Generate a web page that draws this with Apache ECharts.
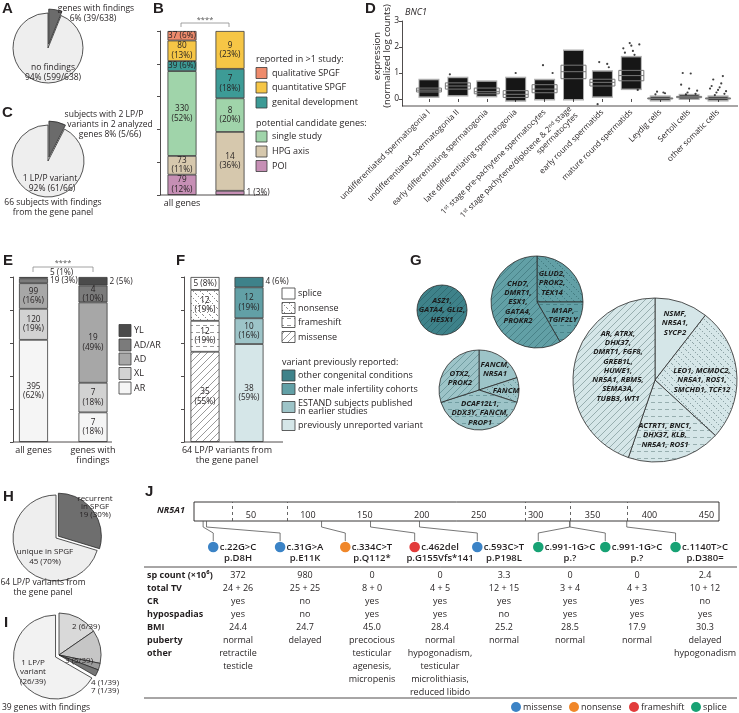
<!DOCTYPE html>
<html>
<head>
<meta charset="utf-8">
<title>Gene panel findings</title>
<script src="https://cdn.jsdelivr.net/npm/echarts@6/dist/echarts.min.js"></script>
<style>
html,body{margin:0;padding:0;background:#fff;}
#chart{width:739px;height:713px;}
</style>
</head>
<body>
<div id="chart"></div>
<script>
// ================= DATA =================
// Panel A
const aNames = ['genes with findings', 'no findings'];
const aValues = [39, 599];
// Panel C
const cNames = ['subjects with 2 LP/P variants in 2 analyzed genes', '1 LP/P variant'];
const cValues = [5, 61];
// Panel B
const bCategories = ['all genes', 'genes with\nfindings'];
const bTotals = [638, 39];
const bPOI = [79, 1];       const bPOIPct = [12, 3];
const bHPG = [73, 14];      const bHPGPct = [11, 36];
const bSingle = [330, 8];   const bSinglePct = [52, 20];
const bGenital = [39, 7];   const bGenitalPct = [6, 18];
const bQuant = [80, 9];     const bQuantPct = [13, 23];
const bQual = [37, 0];      const bQualPct = [6, 0];
// Panel D
const dGene = 'BNC1';
const dCategories = [
  'undifferentiated spermatogonia I',
  'undifferentiated spermatogonia II',
  'early differentiating spermatogonia',
  'late differentiating spermatogonia',
  '1st stage pre-pachytene spermatocytes',
  '1st stage pachytene/diplotene & 2nd stage\nspermatocytes',
  'early round spermatids',
  'mature round spermatids',
  'Leydig cells',
  'Sertoli cells',
  'other somatic cells'
];
const dYTicks = [0, 1, 2, 3];
const dQ1 =        [0.27, 0.38, 0.20, 0.06, 0.24, 0.78, 0.50, 0.70, 0.00, 0.05, 0.00];
const dMedian =    [0.34, 0.50, 0.28, 0.18, 0.38, 1.05, 0.64, 0.90, 0.02, 0.08, 0.02];
const dQ3 =        [0.42, 0.62, 0.42, 0.32, 0.55, 1.30, 0.76, 1.10, 0.04, 0.10, 0.04];
const dCloudLow =  [0.10, 0.15, 0.12, -0.05, 0.00, 0.00, 0.10, 0.40, -0.04, 0.02, -0.04];
const dCloudHigh = [0.72, 0.80, 0.66, 0.80, 0.72, 1.85, 1.05, 1.60, 0.08, 0.14, 0.08];
const dOutliers = [
  [1, 0.95], [3, 1.0], [4, 1.0], [4, 1.3], [6, 1.22], [6, 1.42], [6, 1.35], [6, -0.2],
  [7, 1.70], [7, 1.78], [7, 1.85], [7, 1.95], [7, 2.05], [7, 2.1], [7, 2.15], [7, 0.35],
  [8, 0.28], [8, 0.22], [8, 0.18], [8, 0.25],
  [9, 1.0], [9, 0.98], [9, 0.55], [9, 0.4], [9, 0.32], [9, 0.25], [9, 0.2], [9, 0.18],
  [10, 0.88], [10, 0.75], [10, 0.6], [10, 0.5], [10, 0.45], [10, 0.4], [10, 0.35], [10, 0.3], [10, 0.25], [10, 0.2], [10, 0.15]
];
// Panel E
const eCategories = ['all genes', 'genes with\nfindings'];
const eTotals = [638, 39];
const eAR = [395, 7];   const eARPct = [62, 18];
const eXL = [120, 7];   const eXLPct = [19, 18];
const eAD = [99, 19];   const eADPct = [16, 49];
const eADAR = [19, 4];  const eADARPct = [3, 10];
const eYL = [5, 2];     const eYLPct = [1, 5];
// Panel F
const fCategories = ['variant type', 'previously reported'];
const fTotals = [64, 64];
const fMissense = [35, 0];     const fMissensePct = [55, 0];
const fFrameshift = [12, 0];   const fFrameshiftPct = [19, 0];
const fNonsense = [12, 0];     const fNonsensePct = [19, 0];
const fSplice = [5, 0];        const fSplicePct = [8, 0];
const fUnreported = [0, 38];   const fUnreportedPct = [0, 59];
const fEstand = [0, 10];       const fEstandPct = [0, 16];
const fMaleInf = [0, 12];      const fMaleInfPct = [0, 19];
const fCongenital = [0, 4];    const fCongenitalPct = [0, 6];
// Panel G  (order of slices: splice, nonsense, frameshift, missense)
const gTypes = ['splice', 'nonsense', 'frameshift', 'missense'];
const gCongenital = [0, 0, 0, 4];
const gMaleInf = [0, 3, 2, 7];
const gEstand = [2, 1, 4, 3];
const gUnreported = [4, 10, 7, 17];
const gCongenitalGenes = ['', '', '', 'ASZ1,\nGATA4, GLI2,\nHESX1'];
const gMaleInfGenes = ['', 'GLUD2,\nPROK2,\nTEX14', 'M1AP,\nTGIF2LY', 'CHD7,\nDMRT1,\nESX1,\nGATA4,\nPROKR2'];
const gEstandGenes = ['FANCM,\nNR5A1', 'FANCM', 'DCAF12L1,\nDDX3Y, FANCM,\nPROP1', 'OTX2,\nPROK2'];
const gUnreportedGenes = ['NSMF,\nNR5A1,\nSYCP2', 'LEO1, MCMDC2,\nNR5A1, ROS1,\nSMCHD1, TCF12', 'ACTRT1, BNC1,\nDHX37, KLB,\nNR5A1, ROS1', 'AR, ATRX,\nDHX37,\nDMRT1, FGF8,\nGREB1L,\nHUWE1,\nNR5A1, RBM5,\nSEMA3A,\nTUBB3, WT1'];
// Panel H
const hNames = ['recurrent in SPGF', 'unique in SPGF'];
const hValues = [19, 45];
const hPct = [30, 70];
// Panel I
const iNames = ['2', '3', '4', '7', '1 LP/P variant'];
const iValues = [6, 5, 1, 1, 26];
// Panel J
const jGene = 'NR5A1';
const jLength = 461;
const jTicks = [50, 100, 150, 200, 250, 300, 350, 400, 450];
const jBoundaries = [34, 82, 291, 330, 380];
const jPos = [8, 11, 112, 155, 198, 330, 330, 380];
const jCdna = ['c.22G>C', 'c.31G>A', 'c.334C>T', 'c.462del', 'c.593C>T', 'c.991-1G>C', 'c.991-1G>C', 'c.1140T>C'];
const jProtein = ['p.D8H', 'p.E11K', 'p.Q112*', 'p.G155Vfs*141', 'p.P198L', 'p.?', 'p.?', 'p.D380='];
const jType = ['missense', 'missense', 'nonsense', 'frameshift', 'missense', 'splice', 'splice', 'splice'];
const jRowNames = ['sp count (×10⁶)', 'total TV', 'CR', 'hypospadias', 'BMI', 'puberty', 'other'];
const jSpCount = ['372', '980', '0', '0', '3.3', '0', '0', '2.4'];
const jTotalTV = ['24 + 26', '25 + 25', '8 + 0', '4 + 5', '12 + 15', '3 + 4', '4 + 3', '10 + 12'];
const jCR = ['yes', 'no', 'yes', 'yes', 'yes', 'yes', 'yes', 'no'];
const jHypospadias = ['yes', 'no', 'yes', 'yes', 'no', 'yes', 'yes', 'yes'];
const jBMI = ['24.4', '24.7', '45.0', '28.4', '25.2', '28.5', '17.9', '30.3'];
const jPuberty = ['normal', 'delayed', 'precocious', 'normal', 'normal', 'normal', 'normal', 'delayed'];
const jOther = [
  ['retractile', 'testicle'], [], ['testicular', 'agenesis,', 'micropenis'],
  ['hypogonadism,', 'testicular', 'microlithiasis,', 'reduced libido'], [], [], [], ['hypogonadism']
];
const jLegend = ['missense', 'nonsense', 'frameshift', 'splice'];

// ================= STYLE / LAYOUT =================
const INK = '#231f20';
const FONT = '"Open Sans", "DejaVu Sans", sans-serif';
const colQual = '#ee8b6c', colQuant = '#f6c646', colGenital = '#3d9b96',
      colSingle = '#a0d4aa', colHPG = '#d6c8ad', colPOI = '#c68fb5';
const colYL = '#4b4b4b', colADAR = '#7b7b7b', colAD = '#a7a7a7', colXL = '#d2d2d2', colAR = '#f5f5f5';
const colCong = '#3e828a', colMale = '#62a0a6', colEstand = '#9dc4c8', colUnrep = '#d5e6e8';
const typeColor = { missense: '#3b83c6', nonsense: '#f0872a', frameshift: '#e23b3b', splice: '#17a274' };

function makePattern(bg, kind, fg) {
  const w = 7, h = 7;
  const cv = document.createElement('canvas');
  cv.width = w; cv.height = h;
  const g = cv.getContext('2d');
  g.fillStyle = bg; g.fillRect(0, 0, w, h);
  g.strokeStyle = fg; g.fillStyle = fg; g.lineWidth = 0.7;
  if (kind === 'missense') {
    g.beginPath();
    g.moveTo(-1, h + 1); g.lineTo(w + 1, -1);
    g.moveTo(-1, 1); g.lineTo(1, -1);
    g.moveTo(w - 1, h + 1); g.lineTo(w + 1, h - 1);
    g.stroke();
  } else if (kind === 'nonsense') {
    for (let i = 0; i < w; i += 2) g.fillRect(i, i, 0.9, 0.9);
  } else if (kind === 'frameshift') {
    g.beginPath(); g.moveTo(0, 3.5); g.lineTo(4, 3.5); g.stroke();
  }
  return { image: cv, repeat: 'repeat' };
}
function typeFill(bg, type, fg) { return type === 'splice' ? bg : makePattern(bg, type, fg); }

const mctx = document.createElement('canvas').getContext('2d');
function textW(t, font) { mctx.font = font; return mctx.measureText(t).width; }

// ---------- graphic helpers ----------
const G = [];
function txt(x, y, text, o) {
  o = o || {};
  const size = o.size || 9;
  const font = (o.style || 'normal') + ' ' + (o.weight || 'normal') + ' ' + size + 'px ' + (o.family || FONT);
  const el = { type: 'text', x: x, y: y, silent: true, z: 100,
    style: { text: text, fill: o.color || INK, font: font,
      textAlign: o.align || 'center', align: o.align || 'center',
      textVerticalAlign: 'middle', verticalAlign: 'middle',
      lineHeight: o.lh || Math.round(size * 1.15) } };
  if (o.rotation) el.rotation = o.rotation;
  G.push(el);
}
function box(x, y, w, h, fill) {
  G.push({ type: 'rect', silent: true, z: 100, shape: { x: x, y: y, width: w, height: h },
    style: { fill: fill, stroke: '#3a3a3a', lineWidth: 0.8 } });
}
function pline(pts, o) {
  o = o || {};
  G.push({ type: 'polyline', silent: true, z: o.z || 100, shape: { points: pts },
    style: { fill: null, stroke: o.color || INK, lineWidth: o.w || 0.8 } });
}
function dot(cx, cy, r, fill) {
  G.push({ type: 'circle', silent: true, z: 100, shape: { cx: cx, cy: cy, r: r }, style: { fill: fill } });
}

// ---------- panel letters ----------
[['A', 2, 9], ['B', 153, 9], ['C', 2, 113], ['D', 365, 9], ['E', 3, 261], ['F', 176, 261],
 ['G', 410, 261], ['H', 3, 497], ['I', 4, 623], ['J', 145, 492]].forEach(function (l) {
  txt(l[1], l[2], l[0], { align: 'left', weight: 'bold', size: 15, family: '"Liberation Sans", Arial, sans-serif' });
});

// ---------- A & C texts ----------
txt(96, 9, aNames[0], { size: 8.5 });
txt(93, 19, Math.round(aValues[0] / (aValues[0] + aValues[1]) * 100) + '% (' + aValues[0] + '/' + (aValues[0] + aValues[1]) + ')', { size: 8.5 });
txt(53, 68, aNames[1], { size: 8.5 });
txt(53, 78, Math.round(aValues[1] / (aValues[0] + aValues[1]) * 100) + '% (' + aValues[1] + '/' + (aValues[0] + aValues[1]) + ')', { size: 8.5 });
txt(104, 115, 'subjects with 2 LP/P', { size: 8.5 });
txt(110, 125, 'variants in 2 analyzed', { size: 8.5 });
txt(110, 135, 'genes ' + Math.round(cValues[0] / (cValues[0] + cValues[1]) * 100) + '% (' + cValues[0] + '/' + (cValues[0] + cValues[1]) + ')', { size: 8.5 });
txt(50, 179, cNames[1], { size: 8.5 });
txt(52, 189, Math.round(cValues[1] / (cValues[0] + cValues[1]) * 100) + '% (' + cValues[1] + '/' + (cValues[0] + cValues[1]) + ')', { size: 8.5 });
txt(53, 203, (cValues[0] + cValues[1]) + ' subjects with findings', { size: 8.5 });
txt(53, 213, 'from the gene panel', { size: 8.5 });

// ---------- B decorations & legend ----------
pline([[160, 195], [267, 195]]);
pline([[181, 27], [181, 23], [229, 23], [229, 27]], { color: '#8a8a8a' });
txt(205, 20, '****', { size: 7.5, color: '#555' });
txt(256, 59, 'reported in >1 study:', { align: 'left' });
[['qualitative SPGF', colQual, 73], ['quantitative SPGF', colQuant, 87.5], ['genital development', colGenital, 102.5]].forEach(function (it) {
  box(256, it[2] - 5.5, 11, 11, it[1]); txt(272, it[2], it[0], { align: 'left' });
});
txt(256, 123, 'potential candidate genes:', { align: 'left' });
[['single study', colSingle, 136.5], ['HPG axis', colHPG, 151.5], ['POI', colPOI, 166]].forEach(function (it) {
  box(256, it[2] - 5.5, 11, 11, it[1]); txt(272, it[2], it[0], { align: 'left' });
});

// ---------- D decorations ----------
pline([[402, 106], [738, 106]]);
txt(405, 12, dGene, { align: 'left', style: 'italic', size: 9 });
txt(377, 56, 'expression', { size: 9.5, rotation: Math.PI / 2 });
txt(387, 56, '(normalized log counts)', { size: 9.5, rotation: Math.PI / 2 });

// ---------- E decorations & legend ----------
pline([[13, 442], [112, 442]]);
pline([[33, 272], [33, 267], [93, 267], [93, 272]], { color: '#8a8a8a' });
txt(63, 263, '****', { size: 7.5, color: '#555' });
[['YL', colYL, 330.5], ['AD/AR', colADAR, 345], ['AD', colAD, 359], ['XL', colXL, 373.5], ['AR', colAR, 388]].forEach(function (it) {
  box(119, it[2] - 6, 12, 12, it[1]); txt(134, it[2], it[0], { align: 'left' });
});

// ---------- F decorations & legend ----------
pline([[184, 442], [283, 442]]);
txt(227, 450, '64 LP/P variants from', { size: 9 });
txt(227, 460, 'the gene panel', { size: 9 });
const patFg = '#6f6f6f';
[['splice', 293.5], ['nonsense', 308], ['frameshift', 322], ['missense', 337]].forEach(function (it) {
  box(282, it[1] - 5.5, 13, 11, typeFill('#ffffff', it[0], patFg)); txt(298, it[1], it[0], { align: 'left' });
});
txt(282, 362, 'variant previously reported:', { align: 'left' });
box(282, 370, 13, 11, colCong); txt(298, 375.5, 'other congenital conditions', { align: 'left' });
box(282, 383.5, 13, 11, colMale); txt(298, 389, 'other male infertility cohorts', { align: 'left' });
box(282, 401.5, 13, 11, colEstand); txt(298, 403, 'ESTAND subjects published', { align: 'left' });
txt(298, 411, 'in earlier studies', { align: 'left' });
box(282, 419.5, 13, 11, colUnrep); txt(298, 425, 'previously unreported variant', { align: 'left' });

// ---------- G labels ----------
const gLabelPos = {
  cong: [null, null, null, [442, 310]],
  male: [null, [552, 283], [563, 315], [518, 302]],
  estand: [[495, 369.5], [506, 391], [480, 413], [460, 378]],
  unrep: [[675, 323], [702, 380], [665, 435], [618, 366]]
};
function gLabels(genes, pos) {
  genes.forEach(function (t, k) { if (t && pos[k]) txt(pos[k][0], pos[k][1], t, { size: 7.8, weight: 'bold', style: 'italic', lh: 9.3, color: '#1c1c1c' }); });
}
gLabels(gCongenitalGenes, gLabelPos.cong);
gLabels(gMaleInfGenes, gLabelPos.male);
gLabels(gEstandGenes, gLabelPos.estand);
gLabels(gUnreportedGenes, gLabelPos.unrep);

// ---------- H & I texts ----------
txt(95, 499, 'recurrent', { size: 8 });
txt(95, 507, 'in SPGF', { size: 8 });
txt(95, 515, hValues[0] + ' (' + hPct[0] + '%)', { size: 8 });
txt(45, 552, hNames[1], { size: 8 });
txt(45, 562, hValues[1] + ' (' + hPct[1] + '%)', { size: 8 });
txt(43, 583, (hValues[0] + hValues[1]) + ' LP/P variants from', { size: 8.5 });
txt(43, 593, 'the gene panel', { size: 8.5 });
const iTot = iValues.reduce(function (s, v) { return s + v; }, 0);
txt(86, 627, iNames[0] + ' (' + iValues[0] + '/' + iTot + ')', { size: 8 });
txt(79, 661, iNames[1] + ' (' + iValues[1] + '/' + iTot + ')', { size: 8 });
txt(91, 683, iNames[2] + ' (' + iValues[2] + '/' + iTot + ')', { size: 8, align: 'left' });
txt(91, 691, iNames[3] + ' (' + iValues[3] + '/' + iTot + ')', { size: 8, align: 'left' });
txt(33, 663, '1 LP/P', { size: 8 });
txt(33, 672, 'variant', { size: 8 });
txt(33, 682, '(' + iValues[4] + '/' + iTot + ')', { size: 8 });
txt(46, 708, iTot + ' genes with findings', { size: 8.5 });

// ---------- J texts ----------
txt(157, 510, jGene, { align: 'left', weight: 'bold', style: 'italic', size: 9 });
const jColX = [238, 305, 372, 440, 504, 570, 637, 705];
const cFont = 'normal 600 9.5px ' + FONT;
const jCircleX = jCdna.map(function (t, i) { return jColX[i] - textW(t, cFont) / 2 - 6.5; });
jCdna.forEach(function (t, i) {
  txt(jColX[i], 547, t, { size: 9.5, weight: 600 });
  txt(jColX[i], 558, jProtein[i], { size: 9.5, weight: 600 });
});
pline([[144, 567], [737, 567]]);
pline([[144, 698], [737, 698]]);
const jRows = [jSpCount, jTotalTV, jCR, jHypospadias, jBMI, jPuberty];
jRowNames.forEach(function (n, r) { txt(147, 575 + 13 * r, n, { align: 'left', weight: 'bold', size: 9 }); });
jRows.forEach(function (row, r) { row.forEach(function (v, i) { txt(jColX[i], 575 + 13 * r, v, { size: 9 }); }); });
jOther.forEach(function (lines, i) { lines.forEach(function (v, k) { txt(jColX[i], 653 + 13 * k, v, { size: 9 }); }); });
const jLegendX = [516, 574, 634, 696];
jLegend.forEach(function (t, k) { dot(jLegendX[k], 707, 5, typeColor[t]); txt(jLegendX[k] + 7, 707, t, { align: 'left', size: 9 }); });

// ================= SERIES BUILDERS =================
function stackBar(name, counts, pcts, totals, color, stack, axis, axisPx, overrides) {
  return {
    type: 'bar', name: name, stack: stack, xAxisIndex: axis, yAxisIndex: axis, barWidth: 29,
    silent: true,
    itemStyle: { color: color, borderColor: '#3a3a3a', borderWidth: 0.8 },
    label: { fontSize: 8.2, color: INK, lineHeight: 9.5, fontFamily: FONT },
    data: counts.map(function (c, i) {
      if (!c) return '-';
      const v = c / totals[i] * 100;
      const px = v / 100 * axisPx;
      const one = c + ' (' + pcts[i] + '%)';
      let label;
      const ov = overrides && overrides[i];
      if (ov) label = Object.assign({ show: true, formatter: one }, ov);
      else if (px >= 16) label = { show: true, position: 'inside', formatter: c + '\n(' + pcts[i] + '%)' };
      else if (px >= 9) label = { show: true, position: 'inside', formatter: one };
      else label = { show: true, position: 'right', distance: 2, formatter: one };
      return { value: v, label: label };
    })
  };
}
function pieSeries(center, r, items, offset) {
  return {
    type: 'pie', center: center, radius: r, startAngle: 90, clockwise: true, silent: true,
    selectedMode: 'single', selectedOffset: offset || 4,
    label: { show: false }, labelLine: { show: false }, emphasis: { disabled: true },
    itemStyle: { borderColor: '#2b2b2b', borderWidth: 0.8 },
    data: items
  };
}
function gPie(values, fill, fg, center, r) {
  return pieSeries(center, r, values.map(function (v, k) {
    return { value: v, name: gTypes[k], itemStyle: { color: typeFill(fill, gTypes[k], fg) } };
  }).filter(function (d) { return d.value > 0; }));
}
function yAxisStack(grid, offset) {
  return { type: 'value', gridIndex: grid, min: 0, max: 100, interval: 20, offset: offset,
    axisLine: { show: true, lineStyle: { color: INK, width: 0.8 } },
    axisTick: { show: true, length: 3, lineStyle: { color: INK, width: 0.8 } },
    axisLabel: { show: false }, splitLine: { show: false } };
}

const series = [];
// B
series.push(stackBar('POI', bPOI, bPOIPct, bTotals, colPOI, 'b', 0, 164));
series.push(stackBar('HPG axis', bHPG, bHPGPct, bTotals, colHPG, 'b', 0, 164));
series.push(stackBar('single study', bSingle, bSinglePct, bTotals, colSingle, 'b', 0, 164));
series.push(stackBar('genital development', bGenital, bGenitalPct, bTotals, colGenital, 'b', 0, 164));
series.push(stackBar('quantitative SPGF', bQuant, bQuantPct, bTotals, colQuant, 'b', 0, 164));
series.push(stackBar('qualitative SPGF', bQual, bQualPct, bTotals, colQual, 'b', 0, 164));
// E
series.push(stackBar('AR', eAR, eARPct, eTotals, colAR, 'e', 2, 165));
series.push(stackBar('XL', eXL, eXLPct, eTotals, colXL, 'e', 2, 165));
series.push(stackBar('AD', eAD, eADPct, eTotals, colAD, 'e', 2, 165));
series.push(stackBar('AD/AR', eADAR, eADARPct, eTotals, colADAR, 'e', 2, 165));
series.push(stackBar('YL', eYL, eYLPct, eTotals, colYL, 'e', 2, 165, [{ position: 'right', distance: 2, offset: [0, -5] }, null]));
// F
series.push(stackBar('missense', fMissense, fMissensePct, fTotals, makePattern('#ffffff', 'missense', patFg), 'f', 3, 165));
series.push(stackBar('frameshift', fFrameshift, fFrameshiftPct, fTotals, makePattern('#ffffff', 'frameshift', patFg), 'f', 3, 165));
series.push(stackBar('nonsense', fNonsense, fNonsensePct, fTotals, makePattern('#ffffff', 'nonsense', patFg), 'f', 3, 165));
series.push(stackBar('splice', fSplice, fSplicePct, fTotals, '#ffffff', 'f', 3, 165));
series.push(stackBar('previously unreported variant', fUnreported, fUnreportedPct, fTotals, colUnrep, 'f', 3, 165));
series.push(stackBar('ESTAND subjects', fEstand, fEstandPct, fTotals, colEstand, 'f', 3, 165));
series.push(stackBar('other male infertility cohorts', fMaleInf, fMaleInfPct, fTotals, colMale, 'f', 3, 165));
series.push(stackBar('other congenital conditions', fCongenital, fCongenitalPct, fTotals, colCong, 'f', 3, 165, [null, { position: 'right', distance: 2 }]));
// D cloud + box
series.push({
  type: 'custom', xAxisIndex: 1, yAxisIndex: 1, clip: false, silent: true, z: 3,
  data: dCategories.map(function (c, i) { return [i, dCloudLow[i], dCloudHigh[i], dQ1[i], dMedian[i], dQ3[i]]; }),
  renderItem: function (params, api) {
    const i = api.value(0);
    const lo = api.coord([i, api.value(1)]), hi = api.coord([i, api.value(2)]);
    const q1 = api.coord([i, api.value(3)]), md = api.coord([i, api.value(4)]), q3 = api.coord([i, api.value(5)]);
    const cx = lo[0], cw = 19, bw = 25;
    return { type: 'group', children: [
      { type: 'rect', shape: { x: cx - cw / 2 - 1, y: hi[1] - 1.5, width: cw + 2, height: lo[1] - hi[1] + 3 }, style: { fill: 'rgba(20,20,20,0.35)' } },
      { type: 'rect', shape: { x: cx - cw / 2, y: hi[1], width: cw, height: lo[1] - hi[1] }, style: { fill: '#161616' } },
      { type: 'rect', shape: { x: cx - bw / 2, y: q3[1], width: bw, height: Math.max(1, q1[1] - q3[1]) }, style: { fill: 'none', stroke: '#777', lineWidth: 1 } },
      { type: 'line', shape: { x1: cx - bw / 2, y1: md[1], x2: cx + bw / 2, y2: md[1] }, style: { stroke: '#777', lineWidth: 1 } }
    ] };
  }
});
series.push({
  type: 'scatter', xAxisIndex: 1, yAxisIndex: 1, silent: true, symbolSize: 2.2, z: 4,
  itemStyle: { color: '#111' },
  data: dOutliers.map(function (o, k) { return { value: [o[0], o[1]], symbolOffset: [((k * 5) % 11 - 5) * 1.6, 0] }; })
});
// J
series.push({
  type: 'scatter', xAxisIndex: 4, yAxisIndex: 4, data: [], silent: true,
  markLine: { silent: true, symbol: ['none', 'none'], label: { show: false },
    lineStyle: { type: [3, 3], color: '#555', width: 0.9 },
    data: jBoundaries.map(function (b) { return { xAxis: b }; }) }
});
series.push({
  type: 'custom', xAxisIndex: 4, yAxisIndex: 4, clip: false, silent: true,
  data: jPos.map(function (p, i) { return [p, i]; }),
  encode: { x: 0 },
  renderItem: function (params, api) {
    const i = api.value(1);
    const base = api.coord([api.value(0), 0]);
    const sx = jCircleX[i], y0 = base[1];
    return { type: 'group', children: [
      { type: 'polyline', shape: { points: [[base[0], y0], [base[0], y0 + 6], [sx, y0 + 12], [sx, y0 + 20]] }, style: { fill: null, stroke: '#555', lineWidth: 0.8 } },
      { type: 'circle', shape: { cx: sx, cy: 547, r: 5.3 }, style: { fill: typeColor[jType[i]] } }
    ] };
  }
});
// Pies A, C, H, I
series.push(pieSeries([48, 48], 35, [
  { name: aNames[0], value: aValues[0], selected: true, itemStyle: { color: '#6b6b6b' } },
  { name: aNames[1], value: aValues[1], itemStyle: { color: '#eeeeee' } }]));
series.push(pieSeries([48, 161], 36, [
  { name: cNames[0], value: cValues[0], selected: true, itemStyle: { color: '#6b6b6b' } },
  { name: cNames[1], value: cValues[1], itemStyle: { color: '#eeeeee' } }]));
series.push(pieSeries([56, 538], 43, [
  { name: hNames[0], value: hValues[0], selected: true, itemStyle: { color: '#6e6e6e' } },
  { name: hNames[1], value: hValues[1], itemStyle: { color: '#eeeeee' } }], 3));
series.push(pieSeries([59, 655], 42, [
  { name: iNames[0], value: iValues[0], itemStyle: { color: '#d9d9d9' } },
  { name: iNames[1], value: iValues[1], itemStyle: { color: '#c6c6c6' } },
  { name: iNames[2], value: iValues[2], itemStyle: { color: '#9b9b9b' } },
  { name: iNames[3], value: iValues[3], itemStyle: { color: '#777777' } },
  { name: iNames[4], value: iValues[4], selected: true, itemStyle: { color: '#f2f2f2' } }], 4));
// G pies
series.push(gPie(gCongenital, colCong, '#2d6369', [442, 310], 25));
series.push(gPie(gMaleInf, colMale, '#3f757b', [537, 302], 46));
series.push(gPie(gEstand, colEstand, '#5f8d91', [479, 390], 40));
series.push(gPie(gUnreported, colUnrep, '#7d9597', [655, 380], 82));

const option = {
  animation: false,
  backgroundColor: '#ffffff',
  textStyle: { fontFamily: FONT, color: INK },
  grid: [
    { left: 158, top: 31, width: 96, height: 164 },
    { left: 414.5, top: 21, width: 318, height: 85 },
    { left: 3.75, top: 277, width: 119, height: 165 },
    { left: 183, top: 277, width: 88, height: 165 },
    { left: 194, top: 502, width: 525, height: 19, show: true, borderColor: INK, borderWidth: 0.9, backgroundColor: '#fff' }
  ],
  xAxis: [
    { type: 'category', gridIndex: 0, data: bCategories, axisLine: { show: false }, axisTick: { show: false },
      axisLabel: { fontSize: 9, color: INK, margin: 3, lineHeight: 10.5 } },
    { type: 'category', gridIndex: 1, data: dCategories, axisLine: { show: false },
      axisTick: { show: true, alignWithLabel: true, length: 3, lineStyle: { color: INK, width: 0.8 } },
      axisLabel: { rotate: 45, interval: 0, fontSize: 8, color: INK, margin: 5, lineHeight: 9,
        formatter: function (v) { return v.replace(/1st/g, '1{sup|st}').replace(/2nd/g, '2{sup|nd}'); },
        rich: { sup: { fontSize: 5.5, verticalAlign: 'top', lineHeight: 9 } } } },
    { type: 'category', gridIndex: 2, data: eCategories, axisLine: { show: false }, axisTick: { show: false },
      axisLabel: { fontSize: 9, color: INK, margin: 3, lineHeight: 10.5 } },
    { type: 'category', gridIndex: 3, data: fCategories, axisLine: { show: false }, axisTick: { show: false },
      axisLabel: { show: false } },
    { type: 'value', gridIndex: 4, min: 0, max: jLength, axisLine: { show: false }, axisTick: { show: false },
      splitLine: { show: false }, axisLabel: { inside: true, customValues: jTicks, fontSize: 9, color: INK, margin: 1 } }
  ],
  yAxis: [
    yAxisStack(0, -2),
    { type: 'value', gridIndex: 1, min: -0.27, max: 3, offset: 12.5,
      axisLine: { show: true, lineStyle: { color: INK, width: 0.8 } },
      axisTick: { show: true, length: 3, customValues: dYTicks, lineStyle: { color: INK, width: 0.8 } },
      axisLabel: { customValues: dYTicks, fontSize: 8.5, color: INK, margin: 3 },
      splitLine: { show: false } },
    yAxisStack(2, -9.25),
    yAxisStack(3, -1),
    { type: 'value', gridIndex: 4, min: 0, max: 1, show: false }
  ],
  series: series,
  graphic: { elements: G }
};

const chart = echarts.init(document.getElementById('chart'), null, { renderer: 'canvas' });
chart.setOption(option);
</script>
</body>
</html>
